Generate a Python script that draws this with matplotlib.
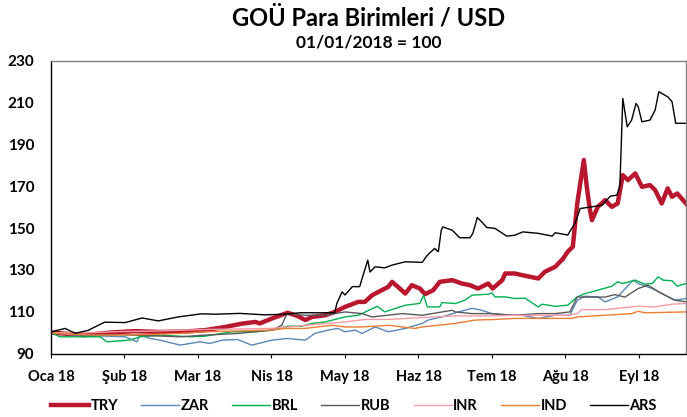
import numpy as np
import matplotlib
matplotlib.use("Agg")
import matplotlib.pyplot as plt

plt.rcParams['font.family'] = ['Lato', 'DejaVu Sans']
plt.rcParams['font.weight'] = 'bold'

# x positions are in months since 01/01/2018 (0 = Oca, 1 = Şub, ...)
month_labels = ["Oca 18", "Şub 18", "Mar 18", "Nis 18", "May 18",
                "Haz 18", "Tem 18", "Ağu 18", "Eyl 18"]

try_x = [0.00, 0.19, 0.46, 0.80, 1.14, 1.48, 1.82, 2.10, 2.37, 2.60, 2.78, 2.84,
         3.01, 3.22, 3.35, 3.46, 3.55, 3.73, 3.86, 4.00, 4.18, 4.27, 4.37, 4.50,
         4.59, 4.64, 4.72, 4.82, 4.91, 5.02, 5.09, 5.20, 5.29, 5.46, 5.59, 5.70,
         5.81, 5.95, 6.01, 6.14, 6.18, 6.31, 6.41, 6.63, 6.72, 6.86, 6.97, 7.03,
         7.10, 7.16, 7.25, 7.29, 7.33, 7.36, 7.44, 7.54, 7.63, 7.71, 7.78, 7.85,
         7.95, 8.04, 8.15, 8.22, 8.31, 8.39, 8.45, 8.52, 8.64]
try_y = [100, 99.5, 98.8, 100, 100.7, 100.3, 100.5, 101.2, 102.7, 104.3, 105.1, 104.4,
         106.8, 109.5, 108, 106, 107.5, 108.3, 109.9, 112.3, 114.7, 114.7, 117.9, 120.3,
         121.9, 124.3, 121.9, 118.7, 122.7, 121.1, 118.4, 120.3, 124.3, 125.1, 123.5, 122.7,
         121.1, 123.5, 121.1, 125.1, 128.3, 128.3, 127.5, 125.9, 129.1, 131.5, 135.5, 138.7,
         141.1, 161.8, 182.6, 169.8, 159.4, 153.8, 160.2, 163.4, 160.2, 161.8, 175.4, 173,
         176.2, 169.8, 170.6, 168.2, 161.8, 169, 165, 166.6, 161.8]

zar_x = [0.00, 0.26, 0.67, 1.01, 1.17, 1.21, 1.35, 1.48, 1.76, 1.89, 2.03, 2.16,
         2.33, 2.54, 2.73, 3.01, 3.22, 3.46, 3.59, 3.77, 3.90, 4.00, 4.14, 4.23,
         4.41, 4.59, 4.82, 5.05, 5.13, 5.32, 5.50, 5.73, 5.86, 6.00, 6.18, 6.41,
         6.63, 6.86, 7.06, 7.16, 7.27, 7.44, 7.54, 7.71, 7.92, 7.99, 8.18, 8.31,
         8.49, 8.64]
zar_y = [100, 99, 98.4, 98, 95.6, 98.8, 97.2, 96.4, 94, 94.8, 95.6, 94.8,
         96.4, 96.7, 94, 96.4, 97.2, 96.4, 99.6, 101.2, 102, 100.4, 101.2, 99.6,
         102.7, 100.4, 102, 104.4, 106, 107.5, 109.5, 111.6, 110.7, 109.1, 108.3, 108.3,
         106.8, 108.3, 108.3, 115.5, 117.4, 117.1, 114.7, 117.1, 125.1, 123.5, 121.1, 118.7,
         115.5, 116.3]

brl_x = [0.00, 0.12, 0.67, 0.76, 1.07, 1.21, 1.48, 1.89, 2.10, 2.46, 2.78, 3.01,
         3.22, 3.41, 3.55, 3.73, 4.00, 4.18, 4.44, 4.54, 4.82, 5.02, 5.07, 5.12,
         5.29, 5.32, 5.50, 5.63, 5.73, 5.95, 6.00, 6.04, 6.18, 6.31, 6.45, 6.63,
         6.68, 6.86, 7.03, 7.16, 7.27, 7.44, 7.63, 7.71, 7.78, 7.95, 8.08, 8.18,
         8.26, 8.33, 8.45, 8.52, 8.64]
brl_y = [100, 98, 98, 95.6, 96.4, 98, 98.8, 98, 98.3, 100.4, 100.4, 101.2,
         103.1, 103.1, 104.4, 105.1, 107.5, 108.3, 112.6, 109.9, 113.1, 114, 117.9, 112.3,
         112.3, 114.4, 113.9, 115.5, 117.9, 118.4, 119, 117.1, 117.1, 116.3, 116.5, 112.3,
         113.6, 112.6, 113.1, 117.1, 118.7, 120.3, 122.2, 124.3, 123.5, 125.1, 123.2, 123.5,
         126.7, 125.1, 124.8, 122.2, 123.5]

rub_x = [0.00, 0.39, 0.94, 1.35, 1.76, 2.10, 2.54, 3.01, 3.14, 3.21, 3.46, 3.73,
         4.00, 4.23, 4.37, 4.78, 5.05, 5.46, 5.50, 5.73, 6.00, 6.31, 6.63, 6.86,
         7.06, 7.16, 7.31, 7.54, 7.67, 7.81, 7.99, 8.12, 8.31, 8.49, 8.64]
rub_y = [100, 99, 99, 98.5, 98, 98.8, 99.6, 101.2, 103.5, 109.1, 108.3, 108.3,
         109.9, 109.1, 107.5, 109.1, 108.3, 110.7, 109.9, 109.1, 109.1, 108.3, 109.1, 109.1,
         109.9, 117.1, 117, 117, 118.2, 117, 121.1, 122.7, 118.7, 115.5, 114.7]

inr_x = [0.00, 0.39, 0.94, 1.48, 2.10, 3.01, 3.46, 4.00, 4.27, 4.59, 5.05, 5.50,
         5.95, 6.31, 7.03, 7.16, 7.22, 7.54, 7.99, 8.22, 8.45, 8.64]
inr_y = [100, 99.8, 100.5, 100.8, 101.5, 102, 103.5, 105.1, 106.3, 106.3, 107.2, 108,
         108, 108.3, 108.3, 109.1, 111, 111, 112.6, 112.3, 113.6, 114]

ind_x = [0.00, 0.26, 0.67, 1.21, 1.76, 2.10, 3.01, 3.18, 3.46, 3.82, 4.00, 4.23,
         4.59, 4.95, 5.05, 5.50, 5.77, 6.04, 6.31, 7.09, 7.16, 7.54, 7.90, 7.99,
         8.08, 8.64]
ind_y = [100, 99.2, 98.8, 99, 99.6, 100.4, 101.2, 102, 102, 103.5, 102.7, 102.7,
         103.5, 102, 102.7, 104.4, 106, 106.3, 106.8, 106.8, 107.5, 108.3, 109.1, 110.2,
         109.5, 109.9]

ars_x = [0.00, 0.19, 0.33, 0.50, 0.73, 1.01, 1.24, 1.46, 1.73, 2.05, 2.23, 2.57,
         2.91, 3.18, 3.39, 3.86, 3.89, 3.96, 4.00, 4.10, 4.20, 4.24, 4.31, 4.34,
         4.41, 4.54, 4.64, 4.82, 5.05, 5.12, 5.22, 5.27, 5.31, 5.33, 5.46, 5.56,
         5.70, 5.74, 5.80, 5.86, 5.93, 6.04, 6.20, 6.31, 6.42, 6.63, 6.82, 6.86,
         7.03, 7.13, 7.20, 7.36, 7.50, 7.61, 7.70, 7.74, 7.78, 7.84, 7.90, 7.96,
         7.99, 8.04, 8.15, 8.22, 8.27, 8.39, 8.45, 8.50, 8.64]
ars_y = [100.3, 102, 99.7, 101, 105, 104.8, 107, 105.6, 107.5, 109, 108.8, 109.2,
         108.5, 108.8, 109.5, 109.5, 114, 119.5, 118, 122, 122, 126.7, 134.7, 129,
         131.5, 131, 132.3, 133.9, 133.6, 137, 140.3, 138.7, 149, 150.6, 149, 145.4,
         145.4, 147.5, 155.1, 153, 150.3, 149.9, 146.2, 146.6, 148.2, 147.5, 146.2, 147.8,
         146.7, 152.3, 159.4, 160.2, 161, 165.3, 165.8, 169.8, 212.1, 198.5, 201.7, 209.7,
         208.1, 200.9, 201.7, 206.5, 215.3, 212.9, 210.5, 200.2, 200.2]

series = [
    ("TRY", try_x, try_y, "#B8172F", 3.2),
    ("ZAR", zar_x, zar_y, "#5B87B5", 1.0),
    ("BRL", brl_x, brl_y, "#00B050", 1.0),
    ("RUB", rub_x, rub_y, "#595959", 1.0),
    ("INR", inr_x, inr_y, "#F59CA8", 1.0),
    ("IND", ind_x, ind_y, "#ED7D31", 1.0),
    ("ARS", ars_x, ars_y, "#000000", 1.0),
]

fig = plt.figure(figsize=(6.87, 4.17), dpi=100)
ax = fig.add_axes([51 / 687, 1 - 353.5 / 417, 635 / 687, 292.5 / 417])

for name, xs, ys, col, lw in series:
    ax.plot(xs, ys, color=col, lw=lw, label=name, solid_joinstyle='round')

ax.set_xlim(0, 8.64)
ax.set_ylim(90, 230)
ax.set_yticks(np.arange(90, 231, 20))
ax.set_xticks(np.arange(len(month_labels)))
ax.set_xticklabels(month_labels)
ax.tick_params(axis='y', length=0, pad=12, labelsize=11)
ax.tick_params(axis='x', length=3, direction='out', pad=9, labelsize=10.5)
for lab in ax.get_xticklabels() + ax.get_yticklabels():
    lab.set_fontweight('bold')

ax.spines['left'].set_color('black')
ax.spines['bottom'].set_color('black')
ax.spines['top'].set_color('#808080')
ax.spines['right'].set_color('#808080')
for s in ax.spines.values():
    s.set_linewidth(1.0)

cx = (51 + 686) / 2 / 687
fig.text(cx, 1 - 18 / 417, "GOÜ Para Birimleri / USD", ha='center', va='center',
         fontsize=17, fontweight='bold')
fig.text(cx, 1 - 43 / 417, "01/01/2018 = 100", ha='center', va='center',
         fontsize=12.5, fontweight='bold')

fig.legend(loc='center', bbox_to_anchor=(354 / 687, 1 - 406 / 417), ncol=7,
           frameon=False, handlelength=2.6, handletextpad=0.1, columnspacing=1.6,
           prop={'size': 10.5, 'weight': 'bold'})

fig.savefig("out.png", dpi=100)
